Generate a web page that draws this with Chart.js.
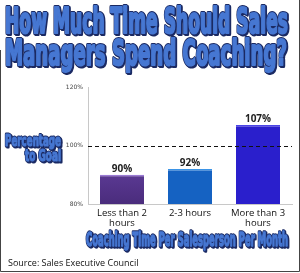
<!DOCTYPE html>
<html>
<head>
<meta charset="utf-8">
<script src="https://cdn.jsdelivr.net/npm/chart.js@4"></script>
<style>
html,body{margin:0;padding:0;background:#fff;}
#wrap{width:300px;height:273px;position:relative;}
</style>
</head>
<body>
<div id="wrap"><canvas id="c" width="300" height="273"></canvas></div>
<script>
const titleLines = ["How Much Time Should Sales", "Managers Spend Coaching?"];
const categories = [["Less than 2", "hours"], "2-3 hours", ["More than 3", "hours"]];
const values = [90, 92, 107];
const valueLabels = ["90%", "92%", "107%"];
const yTicks = [80, 100, 120];
const goalValue = 100;
const yTitleLines = ["Percentage", "to Goal"];
const xTitle = "Coaching Time Per Salesperson Per Month";
const sourceText = "Source: Sales Executive Council";

const BLUE = "#4677d2";
const DARK = "#1b2a63";

function fitText(ctx, text, left, baseline, width, font, thick) {
  ctx.save();
  ctx.font = font;
  ctx.textAlign = "left";
  ctx.textBaseline = "alphabetic";
  const w = ctx.measureText(text).width;
  const sx = width / w;
  ctx.translate(left, baseline);
  ctx.scale(sx, 1);
  ctx.lineJoin = "round";
  ctx.fillStyle = DARK;
  ctx.strokeStyle = DARK;
  ctx.lineWidth = thick + 2;
  ctx.strokeText(text, 1.2 / sx, 1.2);
  ctx.strokeText(text, 0, 0);
  ctx.strokeStyle = BLUE;
  ctx.lineWidth = thick;
  ctx.strokeText(text, 0, 0);
  ctx.fillStyle = BLUE;
  ctx.fillText(text, 0, 0);
  ctx.restore();
}

const decor = {
  id: "decor",
  beforeDraw(chart) {
    const ctx = chart.ctx;
    ctx.save();
    ctx.fillStyle = "#fff";
    ctx.fillRect(0, 0, chart.width, chart.height);
    ctx.restore();
  },
  afterDatasetsDraw(chart) {
    const ctx = chart.ctx;
    const y = chart.scales.y;
    ctx.save();
    ctx.strokeStyle = "#111";
    ctx.lineWidth = 1;
    ctx.setLineDash([4, 3]);
    const gy = Math.round(y.getPixelForValue(goalValue)) + 0.5;
    ctx.beginPath();
    ctx.moveTo(chart.chartArea.left, gy);
    ctx.lineTo(chart.chartArea.right, gy);
    ctx.stroke();
    ctx.restore();
    const meta = chart.getDatasetMeta(0);
    ctx.save();
    ctx.font = "bold 10px 'Open Sans', sans-serif";
    ctx.fillStyle = "#222";
    ctx.textAlign = "center";
    ctx.textBaseline = "middle";
    meta.data.forEach((bar, i) => {
      ctx.fillText(valueLabels[i], bar.x, bar.y - 6);
    });
    ctx.restore();
  },
  afterDraw(chart) {
    const ctx = chart.ctx;
    const tf = "bold 36px 'Liberation Sans Narrow', 'DejaVu Sans Condensed', sans-serif";
    fitText(ctx, titleLines[0], 5, 33, 283, tf, 2.2);
    fitText(ctx, titleLines[1], 5, 65, 282, tf, 2.2);
    const af = "bold 16px 'Liberation Sans Narrow', 'DejaVu Sans Condensed', sans-serif";
    fitText(ctx, yTitleLines[0], 5, 146, 56, af, 1.2);
    fitText(ctx, yTitleLines[1], 25, 161, 36, af, 1.2);
    const xf = "bold 19px 'Liberation Sans Narrow', 'DejaVu Sans Condensed', sans-serif";
    fitText(ctx, xTitle, 86, 246, 202, xf, 1.4);
    ctx.save();
    ctx.font = "9px 'Open Sans', sans-serif";
    ctx.fillStyle = "#111";
    ctx.textAlign = "left";
    ctx.textBaseline = "middle";
    ctx.fillText(sourceText, 8, 263);
    ctx.strokeStyle = "#444";
    ctx.lineWidth = 1;
    ctx.beginPath();
    ctx.moveTo(0.5, 50);
    ctx.lineTo(0.5, 271.5);
    ctx.lineTo(299.5, 271.5);
    ctx.lineTo(299.5, 0);
    ctx.stroke();
    ctx.restore();
  }
};

function barBg(context) {
  const chart = context.chart;
  const i = context.dataIndex;
  const area = chart.chartArea;
  if (!area) return "#6a45a8";
  if (i === 0) {
    const g = chart.ctx.createLinearGradient(0, area.top, 0, area.bottom);
    g.addColorStop(0, "#8a62c8");
    g.addColorStop(0.5, "#6a45a8");
    g.addColorStop(1, "#4a2c7c");
    return g;
  }
  return i === 1 ? "#1562c2" : "#2a1fcc";
}

new Chart(document.getElementById("c"), {
  type: "bar",
  data: {
    labels: categories,
    datasets: [{
      data: values,
      backgroundColor: barBg,
      borderColor: ["#9a7ad4", "#3b94e6", "#4a44e6"],
      borderWidth: { top: 1.5, left: 0, right: 0, bottom: 0 },
      borderSkipped: "bottom",
      barPercentage: 0.72,
      categoryPercentage: 0.9
    }]
  },
  plugins: [decor],
  options: {
    responsive: false,
    devicePixelRatio: 1,
    animation: false,
    layout: { padding: { top: 87, right: 8, left: 0, bottom: 0 } },
    plugins: {
      legend: { display: false },
      tooltip: { enabled: false },
      title: { display: false }
    },
    scales: {
      y: {
        min: 80, max: 120,
        afterBuildTicks(scale) { scale.ticks = yTicks.map(v => ({ value: v })); },
        afterFit(scale) { scale.width = 88; },
        grid: { display: false, drawTicks: false },
        border: { display: true, color: "#c8c8c8", width: 1 },
        ticks: {
          padding: 5,
          color: "#444",
          font: { size: 6, family: "'DejaVu Sans', sans-serif" },
          callback: v => v + "%"
        }
      },
      x: {
        afterFit(scale) { scale.height = 273 - 204; },
        grid: { display: false, drawTicks: false },
        border: { display: true, color: "#c8c8c8", width: 1 },
        ticks: {
          padding: 4,
          color: "#111",
          maxRotation: 0,
          font: { size: 9.5, family: "'Open Sans', sans-serif", lineHeight: 1.05 }
        }
      }
    }
  }
});
</script>
</body>
</html>
